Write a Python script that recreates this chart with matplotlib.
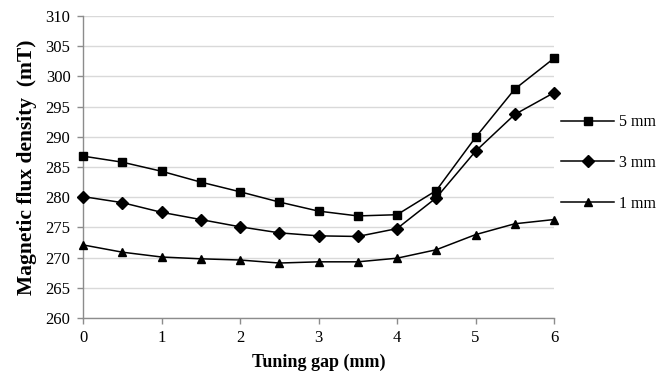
import matplotlib
matplotlib.use("Agg")
import matplotlib.pyplot as plt

gap = [0, 0.5, 1, 1.5, 2, 2.5, 3, 3.5, 4, 4.5, 5, 5.5, 6]
s5 = [286.8, 285.8, 284.3, 282.5, 280.9, 279.2, 277.7, 276.9, 277.1, 281.1, 289.9, 297.9, 303.0]
s3 = [280.1, 279.1, 277.5, 276.3, 275.1, 274.1, 273.6, 273.5, 274.8, 279.9, 287.6, 293.7, 297.3]
s1 = [272.1, 270.9, 270.1, 269.8, 269.6, 269.1, 269.3, 269.3, 269.9, 271.3, 273.8, 275.6, 276.3]
series = [("5 mm", s5, "s"), ("3 mm", s3, "D"), ("1 mm", s1, "^")]
yticks = [260, 265, 270, 275, 280, 285, 290, 295, 300, 305, 310]
xticks = [0, 1, 2, 3, 4, 5, 6]

plt.rcParams['font.family'] = ['Liberation Serif', 'DejaVu Serif']

fig = plt.figure(figsize=(6.72, 3.75), dpi=100)
ax = fig.add_axes([83/672, 1-318/375, (554-83)/672, (318-16)/375])

for label, vals, m in series:
    ms = 6.3 if m != "D" else 6
    ax.plot(gap, vals, color="black", lw=1.1, marker=m, ms=ms, label=label, clip_on=False, zorder=3)

ax.set_xlim(0, 6)
ax.set_ylim(260, 310)
ax.set_xticks(xticks)
ax.set_yticks(yticks)
ax.yaxis.grid(True, color="#d9d9d9", lw=1)
ax.set_axisbelow(True)
for s in ["top", "right"]:
    ax.spines[s].set_visible(False)
for s in ["left", "bottom"]:
    ax.spines[s].set_color("#8c8c8c")
    ax.spines[s].set_linewidth(1)
ax.tick_params(axis="both", colors="#8c8c8c", labelcolor="black", labelsize=12, length=4, width=1)
ax.tick_params(axis="y", pad=5)
ax.tick_params(axis="x", pad=5)

ax.set_xlabel("Tuning gap (mm)", fontsize=13, fontweight="bold", labelpad=5)
ax.set_ylabel("Magnetic flux density  (mT)", fontsize=15.5, fontweight="bold", labelpad=6)

fig.legend(loc="center left", bbox_to_anchor=(555/672, 1-163/375), frameon=False,
           fontsize=11.5, labelspacing=1.55, handlelength=3.3, handletextpad=0.3, borderaxespad=0)

fig.savefig("out.png", dpi=100)
